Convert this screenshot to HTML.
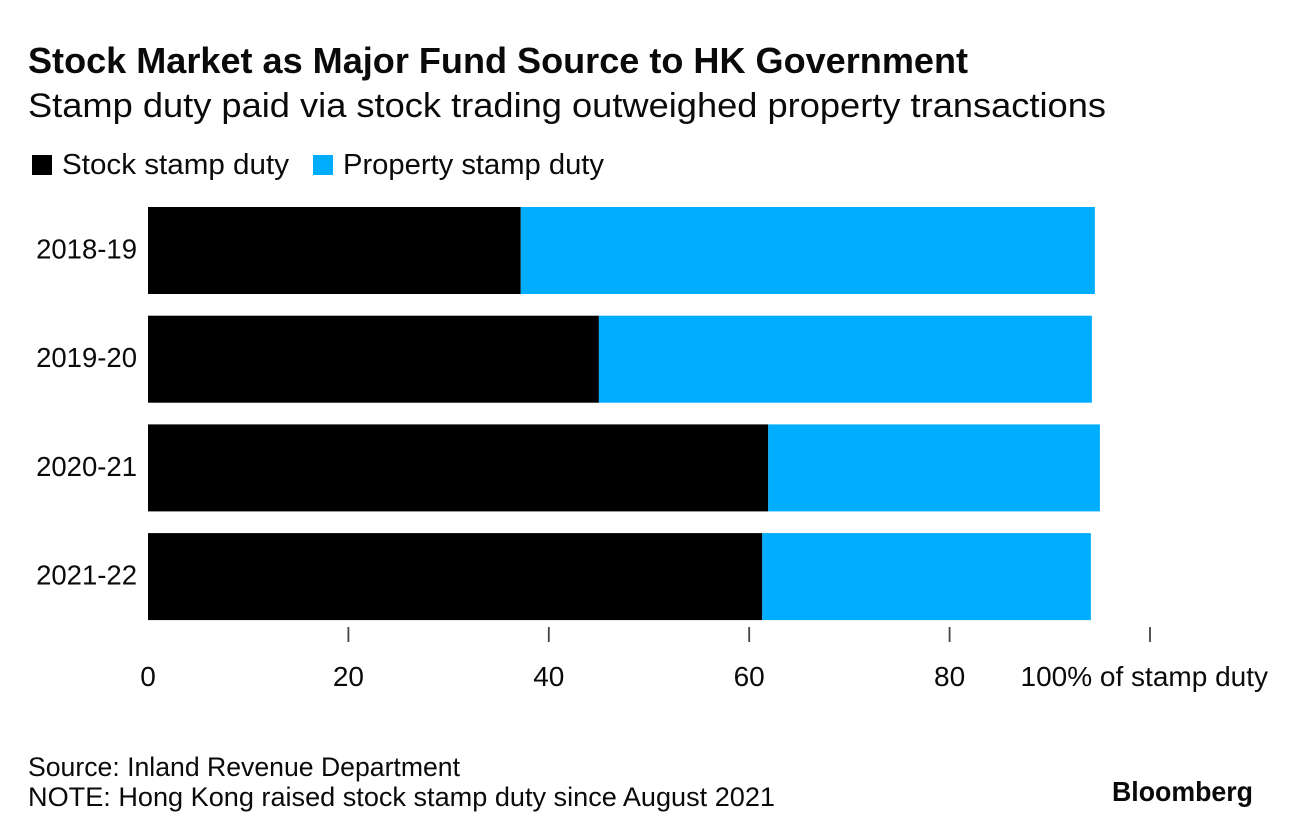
<!DOCTYPE html>
<html lang="en">
<head>
<meta charset="utf-8">
<title>Stock Market as Major Fund Source to HK Government</title>
<style>
html,body{margin:0;padding:0;background:#fff;width:1292px;height:836px;overflow:hidden}
svg{display:block}
text{font-family:"Liberation Sans",Arial,sans-serif;fill:#0a0a0a}
</style>
</head>
<body>
<svg id="chart" xmlns="http://www.w3.org/2000/svg" width="1292" height="836" viewBox="0 0 1292 836">
  <rect x="0" y="0" width="1292" height="836" fill="#ffffff"/>
  <text x="28" y="73" font-size="36" font-weight="700" textLength="940" lengthAdjust="spacingAndGlyphs">Stock Market as Major Fund Source to HK Government</text>
  <text x="28" y="117" font-size="34" textLength="1078" lengthAdjust="spacingAndGlyphs">Stamp duty paid via stock trading outweighed property transactions</text>
  <g>
    <rect x="32" y="155" width="20" height="20" fill="#000000"/>
    <text x="62" y="174" font-size="28.5" textLength="227" lengthAdjust="spacingAndGlyphs">Stock stamp duty</text>
    <rect x="313" y="155" width="20" height="20" fill="#00adff"/>
    <text x="343" y="174" font-size="28.5" textLength="261" lengthAdjust="spacingAndGlyphs">Property stamp duty</text>
  </g>
  <g id="plot"></g>
  <text x="28" y="776" font-size="27" textLength="432" lengthAdjust="spacingAndGlyphs">Source: Inland Revenue Department</text>
  <text x="28" y="806" font-size="27" textLength="747" lengthAdjust="spacingAndGlyphs">NOTE: Hong Kong raised stock stamp duty since August 2021</text>
  <text x="1112" y="801" font-size="28" font-weight="700" textLength="141" lengthAdjust="spacingAndGlyphs">Bloomberg</text>
</svg>
<script>
const categories = ['2018-19', '2019-20', '2020-21', '2021-22'];
const stockValues = [37.2, 45.0, 61.9, 61.3];
const propertyValues = [57.3, 49.2, 33.1, 32.8];
const tickValues = [0, 20, 40, 60, 80, 100];
const tickLabels = ['0', '20', '40', '60', '80', '100% of stamp duty'];

const NS = 'http://www.w3.org/2000/svg';
const plot = document.getElementById('plot');
const x = function (v) { return 148 + v * 10.02; };
const bandTop = function (i) { return 207 + i * 108.7; };
const bandHeight = 87;

function make(tag, attrs) {
  const el = document.createElementNS(NS, tag);
  Object.keys(attrs).forEach(function (k) { el.setAttribute(k, attrs[k]); });
  plot.appendChild(el);
  return el;
}

categories.forEach(function (cat, i) {
  const y = bandTop(i);
  const stockBar = make('rect', { x: x(0), y: y, width: x(stockValues[i]) - x(0), height: bandHeight, fill: '#000000' });
  
  
  const propertyBar = make('rect', { x: x(stockValues[i]), y: y, width: x(stockValues[i] + propertyValues[i]) - x(stockValues[i]), height: bandHeight, fill: '#00adff' });
  
  
  const label = make('text', { x: 137, y: y + bandHeight / 2 + 8, 'font-size': 27.5, 'text-anchor': 'end' });
  label.textContent = cat;
  
  
});

tickValues.forEach(function (v, i) {
  if (v !== 0) {
    const tick = make('line', { x1: x(v), x2: x(v), y1: 627, y2: 642, stroke: '#444444', 'stroke-width': 1.8 });
    
    
  }
  const isLast = i === tickValues.length - 1;
  const label = make('text', { x: isLast ? 1268 : x(v), y: 686, 'font-size': 28, 'text-anchor': isLast ? 'end' : 'middle' });
  label.textContent = tickLabels[i];
  
  
});
</script>
</body>
</html>
